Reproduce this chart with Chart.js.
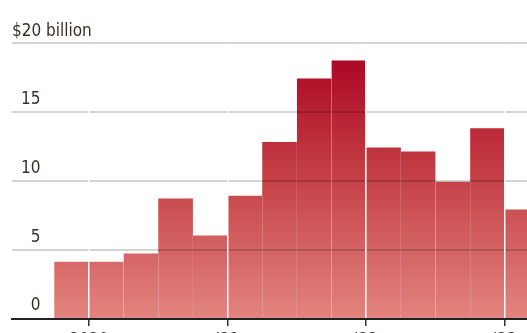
<!DOCTYPE html>
<html>
<head>
<meta charset="utf-8">
<script src="https://cdn.jsdelivr.net/npm/chart.js@4/dist/chart.umd.min.js"></script>
<style>
  html, body { margin: 0; padding: 0; background: #fff; overflow: hidden; }
  #wrap { position: relative; width: 527px; height: 349px; }
</style>
</head>
<body>
<div id="wrap"><canvas id="chart"></canvas></div>
<script>
// quarterly totals, $ billions
const QUARTERS = ['2019 Q4', '2020 Q1', '2020 Q2', '2020 Q3', '2020 Q4',
  '2021 Q1', '2021 Q2', '2021 Q3', '2021 Q4',
  '2022 Q1', '2022 Q2', '2022 Q3', '2022 Q4', '2023 Q1'];
const VALUES = [4.2, 4.2, 4.8, 8.8, 6.1, 9.0, 12.9, 17.5, 18.8, 12.5, 12.2, 10.0, 13.9, 8.0];
const YEAR_LABELS = ['2020', "'21", "'22", "'23"];
const Y_TICKS = [0, 5, 10, 15, 20];

const FONT = "'Liberation Sans Narrow', 'DejaVu Sans Condensed', 'Liberation Sans', sans-serif";
const TEXT = '#352f2c';

// year boundaries sit between Q4 and Q1 bars
const yearTicks = [];
QUARTERS.forEach((q, i) => { if (q.endsWith('Q1')) yearTicks.push(i - 0.5); });

const points = VALUES.map((v, i) => ({ x: i, y: v }));

function barFill(ctx) {
  const chart = ctx.chart;
  if (!chart.chartArea) return '#c94b50';
  const y = chart.scales.y;
  const g = chart.ctx.createLinearGradient(0, y.getPixelForValue(19), 0, y.getPixelForValue(0));
  g.addColorStop(0, '#ab0724');
  g.addColorStop(0.45, '#c43f45');
  g.addColorStop(1, '#e3857f');
  return g;
}

// pad single digits with a figure space so the labels line up on the right
const padLabel = v => (v < 10 ? '\u2007' + v : String(v));

new Chart(document.getElementById('chart'), {
  type: 'bar',
  data: {
    datasets: [{
      data: points,
      backgroundColor: barFill,
      borderColor: 'rgba(255,255,255,0.4)',
      borderWidth: { top: 1, left: 0, right: 0, bottom: 0 },
      borderSkipped: false,
      categoryPercentage: 1,
      barPercentage: 1
    }]
  },
  options: {
    responsive: true,
    maintainAspectRatio: false,
    animation: false,
    events: [],
    layout: { padding: { left: 12, right: 0, top: 0, bottom: 0 } },
    plugins: {
      legend: { display: false },
      tooltip: { enabled: false },
      title: {
        display: true,
        text: '$20 billion',
        align: 'start',
        color: TEXT,
        font: { family: FONT, size: 17, weight: 'normal', lineHeight: 1.2 },
        padding: { top: 21, bottom: 2 }
      }
    },
    scales: {
      x: {
        type: 'linear',
        min: -1.72,
        max: 13.14,
        offset: false,
        afterBuildTicks: s => { s.ticks = yearTicks.map(v => ({ value: v })); },
        afterFit: s => { s.height = 30; },
        grid: {
          z: 2,
          offset: false,
          color: 'rgba(255,255,255,0.95)',
          lineWidth: 1.5,
          tickColor: '#333',
          tickLength: 7
        },
        border: { display: true, color: '#222', width: 2, z: 3 },
        ticks: {
          color: TEXT,
          padding: 4,
          maxRotation: 0,
          autoSkip: false,
          font: { family: FONT, size: 17 },
          callback: v => YEAR_LABELS[yearTicks.indexOf(v)] ?? ''
        }
      },
      y: {
        min: 0,
        max: 20,
        afterBuildTicks: s => { s.ticks = Y_TICKS.map(v => ({ value: v })); },
        afterFit: s => { s.width = 0; },
        grid: { z: 1, color: 'rgba(0,0,0,0.17)', lineWidth: 2, drawTicks: false },
        border: { display: false },
        ticks: {
          mirror: true,
          color: TEXT,
          padding: 9,
          labelOffset: -13,
          font: { family: FONT, size: 17 },
          callback: v => (v === 20 ? '' : padLabel(v))
        }
      }
    }
  }
});
</script>
</body>
</html>
